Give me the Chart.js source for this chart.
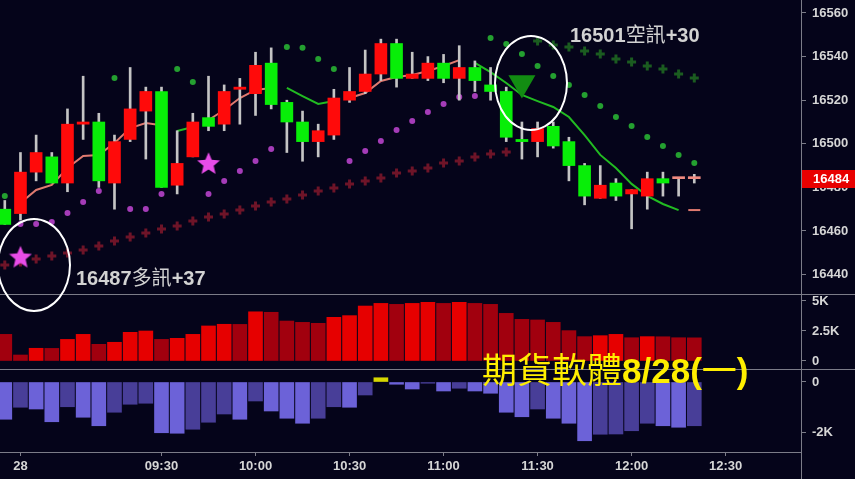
<!DOCTYPE html>
<html><head><meta charset="utf-8">
<script src="https://cdn.jsdelivr.net/npm/chart.js@4"></script>
<style>
html,body{margin:0;padding:0;background:#05041a;overflow:hidden;}
#wrap{position:relative;width:855px;height:479px;background:#05041a;overflow:hidden;}
canvas{position:absolute;left:0;}
.hl{position:absolute;left:0;width:855px;height:1px;background:#7c7c88;}
.vl{position:absolute;left:801px;top:0;width:1px;height:479px;background:#7c7c88;}
.ell{position:absolute;border:2px solid #ffffff;border-radius:50%;box-sizing:border-box;}
.note{position:absolute;white-space:nowrap;color:#d2d2d2;font-family:"Liberation Sans",Arial,sans-serif;font-weight:bold;font-size:20px;line-height:20px;}
.cjk{font-family:"Noto Sans CJK TC",sans-serif;font-weight:normal;}
.title{position:absolute;white-space:nowrap;color:#ffee00;font-family:"Liberation Sans",Arial,sans-serif;font-weight:bold;font-size:35px;line-height:35px;}
</style></head>
<body><div id="wrap">
<canvas id="cPrice" width="855" height="295" style="top:0"></canvas>
<canvas id="cVol" width="855" height="74" style="top:295px"></canvas>
<canvas id="cFlow" width="855" height="110" style="top:369px"></canvas>
<div class="hl" style="top:294px"></div>
<div class="hl" style="top:369px"></div>
<div class="vl"></div>
<div class="ell" style="left:-3px;top:218px;width:74px;height:94px"></div>
<div class="ell" style="left:494px;top:35px;width:74px;height:96px"></div>
<div class="note" style="left:76px;top:267px">16487<span class="cjk">多訊</span>+37</div>
<div class="note" style="left:570px;top:24px">16501<span class="cjk">空訊</span>+30</div>
<div class="title" style="left:482px;top:350px"><span class="cjk">期貨軟體</span>8/28(<span class="cjk">一</span>)</div>
</div>
<script>
// ---- data (5-minute bars, index 0 = last bar of previous session) ----
const openP  = [16470,16468,16487,16494,16482,16509,16510,16482,16502,16515,16524,16481,16494,16512,16509,16525,16523,16537,16519,16510,16501,16504,16520,16524,16532,16546,16530,16530,16537,16530,16535,16527,16524,16502,16501,16508,16501,16490,16475,16482,16477,16476,16484,16484,16484];
const highP  = [16474,16496,16504,16496,16516,16531,16514,16504,16535,16526,16526,16506,16514,16531,16527,16530,16542,16544,16520,16515,16509,16525,16535,16543,16548,16548,16542,16540,16541,16545,16538,16535,16526,16510,16510,16510,16503,16491,16490,16484,16479,16487,16487,16484,16486];
const lowP   = [16463,16465,16483,16482,16478,16502,16480,16470,16501,16493,16480,16477,16494,16506,16506,16509,16513,16516,16496,16492,16494,16502,16519,16523,16529,16526,16530,16529,16528,16520,16524,16520,16501,16493,16494,16498,16483,16472,16475,16474,16461,16470,16476,16476,16482];
const closeP = [16463,16487,16496,16482,16509,16510,16483,16501,16516,16524,16480,16491,16510,16508,16524,16526,16536,16518,16510,16501,16506,16521,16524,16532,16546,16530,16532,16537,16530,16535,16529,16524,16503,16501,16507,16499,16490,16476,16481,16476,16479,16484,16482,16484,16484];
const N = null;
const maUp   = [N,16472.8,16478.8,16481.1,16488.9,16494.4,16494.9,16500.4,16507.2,16509.5,16508.5,N,N,16510.9,16515.5,16521.0,16524.7,16525.6,N,N,N,N,16521.0,16523.3,16528.8,16530.6,16531.6,16533.4,16535.7,16538.4,N,N,N,N,N,N,N,N,N,N,N,N,N,N,16469.6];
const maDown = [N,N,N,N,N,N,N,N,N,N,N,16505.9,16507.7,N,N,N,N,N,16525.6,16521.9,16518.3,16519.6,N,N,N,N,N,N,N,N,16537.1,16532.9,16527.9,16522.4,16519.6,16516.9,16512.3,16504.0,16494.9,16488.9,16481.6,16476.1,16472.4,16469.6,N];
const sarAbove = [16476.1,N,N,N,N,N,N,16530.2,N,N,N,16534.3,16528.3,N,N,N,N,N,16544.4,16544.0,16538.9,16534.3,N,N,N,N,N,N,N,N,N,16548.5,16545.8,16541.2,16535.7,16531.1,16527.0,16522.4,16517.3,16512.3,16508.2,16503.1,16499.0,16494.9,16491.2];
const sarBelow = [N,16463.2,16463.2,16464.1,16468.3,16473.3,16478.3,N,16470.1,16470.1,16477.0,N,N,16477.0,16482.9,16487.5,16492.1,16497.6,N,N,N,N,16492.1,16496.7,16501.3,16506.3,16510.5,16514.6,16518.3,16521.5,16521.9,N,N,N,N,N,N,N,N,N,N,N,N,N,N];
const trailUp = [16444.4,16445.8,16447.2,16448.5,16449.9,16451.3,16453.1,16455.4,16457.2,16459.1,16460.9,16462.3,16464.6,16466.4,16467.8,16469.6,16471.5,16473.3,16474.7,16476.5,16478.3,16479.7,16481.6,16482.9,16484.3,16486.6,16487.5,16488.9,16491.2,16492.1,16493.9,16495.3,16496.2,N,N,N,N,N,N,N,N,N,N,N,N];
const trailDown = [N,N,N,N,N,N,N,N,N,N,N,N,N,N,N,N,N,N,N,N,N,N,N,N,N,N,N,N,N,N,N,N,N,N,16547.2,16545.3,16544.4,16542.6,16541.2,16538.9,16537.5,16535.7,16534.3,16532.0,16530.2];
const buyMarkIdx = [1, 13];
const buyMarkPrice = [16448.3, 16491.2];
const sellMarkIdx = [33];
const sellMarkPrice = [16527.9];
const volume = [2220,500,1060,1050,1800,2220,1390,1560,2390,2500,1800,1890,2220,2920,3060,3050,4100,4060,3330,3220,3140,3640,3780,4580,4800,4720,4800,4890,4800,4890,4800,4720,3970,3470,3420,3220,2530,2030,2110,2220,1940,2030,2020,1940,1930];
const flow = [-1490,-1010,-1080,-1590,-990,-1410,-1750,-1210,-890,-850,-2030,-2050,-1890,-1610,-1280,-1490,-760,-1160,-1450,-1650,-1450,-990,-1010,-520,170,-90,-280,-50,-360,-250,-360,-450,-1210,-1390,-1080,-1450,-1650,-2350,-2090,-2080,-1950,-1650,-1750,-1810,-1750];
const priceTicks = [16440,16460,16480,16500,16520,16540,16560];
const volTicks = [0,2500,5000];
const flowTicks = [-2000,0];
const timeTickIdx = [1,10,16,22,28,34,40,46];
const timeTickLabels = ['28','09:30','10:00','10:30','11:00','11:30','12:00','12:30'];

// ---- styling ----
const FONT = '"Liberation Sans", Arial, sans-serif';
Chart.defaults.font.family = FONT;
Chart.defaults.font.size = 13;
Chart.defaults.font.weight = 'bold';
Chart.defaults.color = '#d6d6d6';
const GRIDC = '#7c7c88';
const XMIN = -0.306, XMAX = 50.81;
const RED = '#ff0a0a', GREEN = '#08ee08', DOJI = '#f08a80';

const pts = arr => arr.map((v, i) => ({x: i, y: v}));
const isolated = (arr) => (ctx) => {
  const i = ctx.dataIndex;
  return (arr[i] != null && arr[i-1] == null && arr[i+1] == null) ? 6 : 0;
};
function makeStar(size, color) {
  const c = document.createElement('canvas');
  c.width = size; c.height = size;
  const g = c.getContext('2d');
  g.fillStyle = color;
  g.beginPath();
  const cx = size / 2, cy = size / 2 + 1.2, R = size / 2, r = R * 0.45;
  for (let k = 0; k < 10; k++) {
    const a = -Math.PI / 2 + k * Math.PI / 5;
    const rr = k % 2 === 0 ? R : r;
    g.lineTo(cx + rr * Math.cos(a), cy + rr * Math.sin(a));
  }
  g.closePath(); g.fill();
  return c;
}
const starImg = makeStar(24, '#e84ce8');

const xHidden = {type: 'linear', min: XMIN, max: XMAX, display: false, offset: false, grid: {offset: false}};
function yAxis(min, max, tickArr, fmt) {
  return {
    type: 'linear', position: 'right', min: min, max: max, beginAtZero: false,
    grid: {display: true, drawOnChartArea: false, drawTicks: true, tickLength: 5, color: GRIDC},
    border: {display: false},
    ticks: {padding: 6, callback: fmt, color: '#d6d6d6'},
    afterBuildTicks: s => { s.ticks = tickArr.map(v => ({value: v})); },
    afterFit: s => { s.width = 54; s.paddingTop = 0; s.paddingBottom = 0; }
  };
}
const common = {
  responsive: false, animation: false, events: [], devicePixelRatio: 1,
  layout: {padding: 0, autoPadding: false},
  plugins: {legend: {display: false}, tooltip: {enabled: false}}
};

const lastPricePlugin = {
  id: 'lastPrice',
  afterDraw(chart) {
    const last = closeP[closeP.length - 1];
    const y = chart.scales.y.getPixelForValue(last);
    const x0 = chart.chartArea.right + 1;
    const ctx = chart.ctx;
    ctx.save();
    ctx.fillStyle = '#e80000';
    ctx.fillRect(x0, Math.round(y) - 9, chart.width - x0, 18);
    ctx.fillStyle = '#ffffff';
    ctx.font = 'bold 13px ' + FONT;
    ctx.textBaseline = 'middle';
    ctx.fillText(String(last), x0 + 11, y + 1);
    ctx.restore();
  }
};

// ---- price panel ----
new Chart(document.getElementById('cPrice'), {
  type: 'bar',
  data: {
    datasets: [
      {type: 'line', data: pts(maUp), borderColor: '#e07a70', borderWidth: 2, spanGaps: false,
       pointStyle: 'line', pointRadius: isolated(maUp), pointBorderColor: '#e07a70', pointBorderWidth: 2, order: 9},
      {type: 'line', data: pts(maDown), borderColor: '#22bb22', borderWidth: 2, spanGaps: false,
       pointStyle: 'line', pointRadius: isolated(maDown), pointBorderColor: '#22bb22', pointBorderWidth: 2, order: 9},
      {type: 'line', data: pts(trailUp), showLine: false, pointStyle: 'cross', pointRadius: 4.5,
       pointBorderWidth: 3, pointBorderColor: '#6e1428', order: 8},
      {type: 'line', data: pts(trailDown), showLine: false, pointStyle: 'cross', pointRadius: 4.5,
       pointBorderWidth: 3, pointBorderColor: '#1b5c20', order: 8},
      {type: 'line', data: pts(sarAbove), showLine: false, pointStyle: 'circle', pointRadius: 3,
       pointBorderWidth: 0, pointBackgroundColor: '#24a030', order: 7},
      {type: 'line', data: pts(sarBelow), showLine: false, pointStyle: 'circle', pointRadius: 3,
       pointBorderWidth: 0, pointBackgroundColor: '#a53cb8', order: 7},
      {type: 'bar', data: lowP.map((v, i) => ({x: i, y: [v, highP[i]]})), barThickness: 2,
       grouped: false, backgroundColor: '#c4c4c4', order: 3},
      {type: 'bar', data: openP.map((v, i) => ({x: i, y: [v, closeP[i]]})), barThickness: 12,
       grouped: false, minBarLength: 2,
       backgroundColor: ctx => {
         const i = ctx.dataIndex;
         return closeP[i] > openP[i] ? RED : (closeP[i] < openP[i] ? GREEN : DOJI);
       }, order: 2},
      {type: 'line', data: buyMarkIdx.map((v, i) => ({x: v, y: buyMarkPrice[i]})), showLine: false,
       pointStyle: starImg, pointRadius: 12, order: 0},
      {type: 'line', data: sellMarkIdx.map((v, i) => ({x: v, y: sellMarkPrice[i]})), showLine: false,
       pointStyle: 'triangle', rotation: 180, pointRadius: 15.6, pointBorderWidth: 0,
       pointBackgroundColor: '#128c12', order: 0}
    ]
  },
  options: Object.assign({}, common, {
    scales: {
      x: xHidden,
      y: yAxis(16430.64, 16565.96, priceTicks, v => String(v))
    }
  }),
  plugins: [lastPricePlugin]
});

// ---- volume panel ----
const kFmt = v => v === 0 ? '0' : (v / 1000) + 'K';
new Chart(document.getElementById('cVol'), {
  type: 'bar',
  data: {datasets: [{
    data: volume.map((v, i) => ({x: i, y: v})), barThickness: 14, grouped: false,
    backgroundColor: ctx => {
      const i = ctx.dataIndex;
      return (i > 0 && volume[i] > volume[i - 1]) ? '#e60000' : '#a1000e';
    }
  }]},
  options: Object.assign({}, common, {
    scales: {x: xHidden, y: yAxis(-667, 5500, volTicks, kFmt)}
  })
});

// ---- flow panel with time axis ----
new Chart(document.getElementById('cFlow'), {
  type: 'bar',
  data: {datasets: [{
    data: flow.map((v, i) => ({x: i, y: v})), barThickness: 14, grouped: false,
    backgroundColor: ctx => {
      const i = ctx.dataIndex, v = flow[i];
      if (v > 0) return '#d6d600';
      return (i === 0 || v < flow[i - 1]) ? '#6c62d8' : '#483e98';
    }
  }]},
  options: Object.assign({}, common, {
    scales: {
      x: {
        type: 'linear', min: XMIN, max: XMAX, offset: false, position: 'bottom',
        grid: {display: true, offset: false, drawOnChartArea: false, drawTicks: true, tickLength: 4, color: GRIDC},
        border: {display: true, color: GRIDC},
        ticks: {padding: 3, maxRotation: 0, autoSkip: false, color: '#d6d6d6',
                callback: (v, idx) => timeTickLabels[idx]},
        afterBuildTicks: s => { s.ticks = timeTickIdx.map(v => ({value: v})); },
        afterFit: s => { s.height = 27; s.paddingLeft = 0; s.paddingRight = 0; }
      },
      y: yAxis(-2800, 520, flowTicks, kFmt)
    }
  })
});
</script>
</body></html>
